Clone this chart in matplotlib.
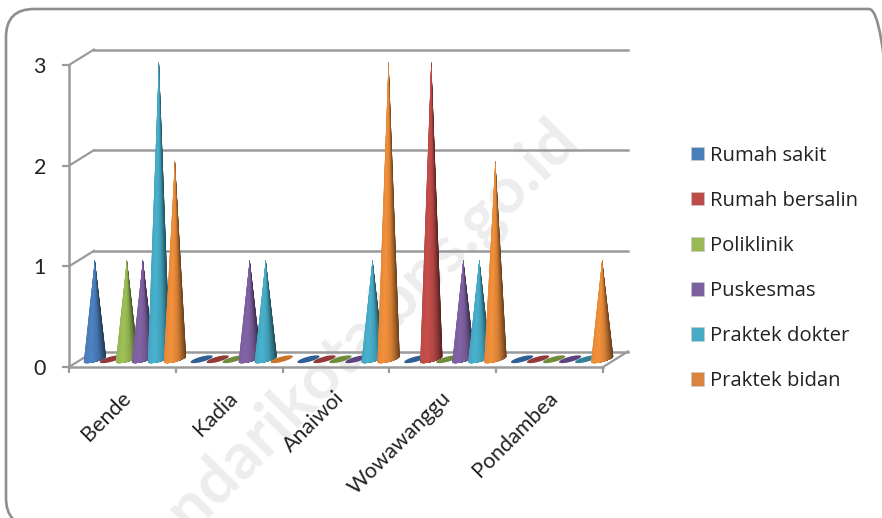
import numpy as np
import matplotlib
matplotlib.use('Agg')
import matplotlib.pyplot as plt
import matplotlib.patches as mpatches
from matplotlib.collections import PolyCollection
from matplotlib.transforms import IdentityTransform, ScaledTranslation

categories = ['Bende', 'Kadia', 'Anaiwoi', 'Wowawanggu', 'Pondambea']
series = ['Rumah sakit', 'Rumah bersalin', 'Poliklinik', 'Puskesmas', 'Praktek dokter', 'Praktek bidan']
rumah_sakit = [1, 0, 0, 0, 0]
rumah_bersalin = [0, 0, 0, 3, 0]
poliklinik = [1, 0, 0, 0, 0]
puskesmas = [1, 1, 0, 1, 0]
praktek_dokter = [3, 1, 1, 1, 0]
praktek_bidan = [2, 0, 3, 2, 1]
values = [rumah_sakit, rumah_bersalin, poliklinik, puskesmas, praktek_dokter, praktek_bidan]
yticks = [0, 1, 2, 3]

colors = ['#4A7EBB', '#BE4B48', '#98B954', '#7D60A0', '#46AAC5', '#E98B39']
legend_colors = ['#4A7EBB', '#BE4B48', '#98B954', '#7D60A0', '#46AAC5', '#DB843D']
flat_colors = ['#2F5F95', '#913A38', '#6F8C3A', '#5B4480', '#2F8299', '#C8742A']
grey = '#9A9A9A'

W, H = 882, 518
plt.rcParams['font.family'] = ['Lato', 'DejaVu Sans']

fig = plt.figure(figsize=(W / 100, H / 100), dpi=100)
ax = fig.add_axes([69 / W, (H - 367) / H, 534 / W, 302 / H])
ax.patch.set_alpha(0)
ax.set_zorder(2)
ax.set_xlim(0, 5)
ax.set_ylim(0, 3)

# px to data units
ux = 5 / 534
uy = 3 / 302
dx, dy = 25 * ux, 15.5 * uy  # depth of the fake 3d box

# watermark
fig.text(568 / W, (H - 130) / H, 'kendarikota.bps.go.id', rotation=45, rotation_mode='anchor',
         ha='right', va='center', fontsize=47, fontweight='bold', color='#EDEDED', zorder=0)

# rounded frame
frame = mpatches.FancyBboxPatch((6, H - 526), 891, 517, boxstyle='round,pad=0,rounding_size=28',
                                transform=IdentityTransform(), fc='none', ec='#8E8E8E', lw=1.9, zorder=1)
fig.add_artist(frame)

# walls
for v in yticks:
    ax.plot([0, dx], [v, v + dy], color=grey, lw=1.6, clip_on=False, zorder=1)
    ax.plot([dx, 5 + dx], [v + dy, v + dy], color=grey, lw=1.8, clip_on=False, zorder=1)
ax.plot([5, 5 + dx], [0, dy], color=grey, lw=1.6, clip_on=False, zorder=1)


def base_ring(cx, cy, t):
    a, b, th = 11.5, 2.6, np.radians(15)
    px = a * np.cos(t) * np.cos(th) - b * np.sin(t) * np.sin(th)
    py = a * np.cos(t) * np.sin(th) + b * np.sin(t) * np.cos(th)
    return cx + px * ux, cy + py * uy, px / a


def cone(cx, v, col, flat, z):
    cy = dy / 2
    if v == 0:
        x, y, _ = base_ring(cx, cy, np.linspace(0, 2 * np.pi, 60))
        ax.fill(x, y, color=flat, lw=0, clip_on=False, zorder=z)
        return
    tip = cy + v * 0.985
    t = np.linspace(np.pi, 2 * np.pi, 41)
    x, y, s = base_ring(cx, cy, t)
    rgb = np.array(matplotlib.colors.to_rgb(col))
    shade = np.interp(s, [-1, -0.35, 0.3, 0.7, 1], [0.98, 1.06, 0.92, 0.68, 0.42])
    peak = int(np.argmax(shade))
    polys, cols = [], []
    # nested triangles, outside in, so no seams between the strips
    for k in range(len(t) - 1, peak, -1):
        idx = range(peak - 1, k + 1)
        polys.append([(cx, tip)] + [(x[m], y[m]) for m in idx])
        cols.append(np.clip(rgb * shade[k], 0, 1))
    for k in range(0, peak + 1):
        idx = range(k, peak + 1)
        polys.append([(cx, tip)] + [(x[m], y[m]) for m in idx])
        cols.append(np.clip(rgb * shade[k], 0, 1))
    ax.add_collection(PolyCollection(polys, facecolors=cols, edgecolors='none', linewidths=0,
                                     clip_on=False, zorder=z))


for j in range(len(series)):
    for i in range(len(categories)):
        cone(i + 0.5 + (j - 2.5) * 0.15 + dx / 2, values[j][i], colors[j], flat_colors[j], 3 + j * 0.1)

# axes
for side in ['top', 'right']:
    ax.spines[side].set_visible(False)
for side in ['left', 'bottom']:
    ax.spines[side].set_color(grey)
    ax.spines[side].set_linewidth(1.8)
    ax.spines[side].set_zorder(2)
ax.set_yticks(yticks)
ax.tick_params(axis='y', length=5, width=1.6, color=grey, pad=11.5, labelsize=15.5, labelcolor='#222222')
ax.set_xticks(np.arange(6))
ax.set_xticklabels([])
ax.tick_params(axis='x', which='major', length=4.5, width=1.6, color=grey)
ax.set_xticks(np.arange(5) + 0.5, minor=True)
ax.set_xticklabels(categories, minor=True, rotation=45, ha='right', va='top', rotation_mode='anchor',
                   fontsize=15.5, color='#222222')
ax.tick_params(axis='x', which='minor', length=0, pad=15)
shift = ScaledTranslation(-2 / 100, 0, fig.dpi_scale_trans)
for lab in ax.get_xticklabels(minor=True):
    lab.set_transform(lab.get_transform() + shift)

handles = [mpatches.Patch(facecolor=c, edgecolor='#C9C9C9', lw=0.5, label=s) for c, s in zip(legend_colors, series)]
ax.legend(handles=handles, loc='center left', bbox_to_anchor=(691 / W, (H - 268.5) / H),
          bbox_transform=fig.transFigure, frameon=False, labelcolor='#222222',
          prop={'family': 'Open Sans', 'size': 14.6},
          handlelength=0.65, handleheight=0.65, handletextpad=0.3, labelspacing=1.24,
          borderpad=0, borderaxespad=0)

fig.savefig('out.png', dpi=100)
